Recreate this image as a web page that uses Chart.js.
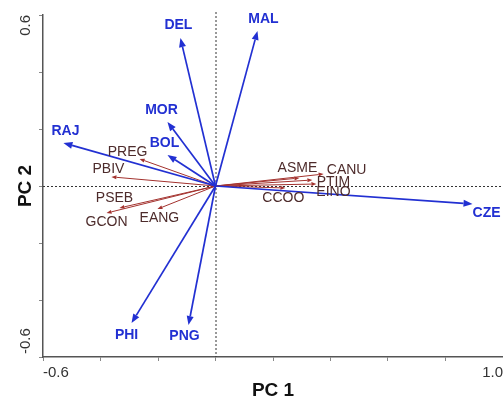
<!DOCTYPE html>
<html>
<head>
<meta charset="utf-8">
<script src="https://cdn.jsdelivr.net/npm/chart.js@4"></script>
<style>
  html, body { margin: 0; padding: 0; background: #ffffff; }
  #wrap { width: 503px; height: 404px; }
</style>
</head>
<body>
<div id="wrap"><canvas id="myChart" width="503" height="404"></canvas></div>
<script>
// Site scores (blue arrows)
var siteNames = ["DEL", "MAL", "MOR", "BOL", "RAJ", "CZE", "PHI", "PNG"];
var siteX = [-0.122, 0.146, -0.167, -0.167, -0.529, 0.894, -0.292, -0.094];
var siteY = [0.519, 0.544, 0.225, 0.109, 0.151, -0.063, -0.481, -0.488];

// Species scores (red arrows)
var speciesNames = ["PREG", "PBIV", "PSEB", "GCON", "EANG", "ASME", "CANU", "PTIM", "EINO", "CCOO"];
var speciesX = [-0.264, -0.362, -0.334, -0.379, -0.202, 0.292, 0.376, 0.337, 0.351, 0.243];
var speciesY = [0.095, 0.032, -0.077, -0.095, -0.081, 0.028, 0.042, 0.021, 0.007, -0.007];

// Axis tick labels (only the ends are labelled)
var xTickLabels = ["-0.6", "1.0"];
var yTickLabels = ["0.6", "-0.6"];

// Label nudges in pixels relative to the arrow tip
var siteLabelOffsets = [[-2, -13], [6, -12], [-6, -12], [-3, -12], [2, -12], [14, 9], [-5, 12], [-4, 11]];
var speciesLabelOffsets = [[-12, -7], [-3, -8], [-5, -10], [0, 9], [2, 9], [-2, -10], [23, -4], [21, 2], [17, 8], [-2, 10]];

var BLUE = "#2230d2";
var RED = "#a3322e";
var BROWN = "#4d2b2b";

function toPoints(xs, ys)
{
    return xs.map(function(v, i) { return { x: v, y: ys[i] }; });
}

// Draws a line from (x0,y0) to (x1,y1) with a filled head at the end
function drawArrow(ctx, x0, y0, x1, y1, color, width, headLen, headHalf)
{
    var ang = Math.atan2(y1 - y0, x1 - x0);
    var bx = x1 - Math.cos(ang) * headLen;
    var by = y1 - Math.sin(ang) * headLen;
    ctx.strokeStyle = color;
    ctx.fillStyle = color;
    ctx.lineWidth = width;
    ctx.beginPath();
    ctx.moveTo(x0, y0);
    ctx.lineTo(bx, by);
    ctx.stroke();
    ctx.beginPath();
    ctx.moveTo(x1, y1);
    ctx.lineTo(bx - Math.sin(ang) * headHalf, by + Math.cos(ang) * headHalf);
    ctx.lineTo(bx + Math.sin(ang) * headHalf, by - Math.cos(ang) * headHalf);
    ctx.closePath();
    ctx.fill();
}

var biplotPlugin = {
    id: "biplot",
    afterDatasetsDraw: function(chart) {
        var ctx = chart.ctx;
        var xs = chart.scales.x;
        var ys = chart.scales.y;
        var area = chart.chartArea;
        var ox = xs.getPixelForValue(0);
        var oy = ys.getPixelForValue(0);

        ctx.save();

        // Dotted zero lines
        ctx.strokeStyle = "#333333";
        ctx.lineWidth = 1;
        ctx.setLineDash([2, 2]);
        ctx.beginPath();
        ctx.moveTo(ox + 0.5, area.top - 3);
        ctx.lineTo(ox + 0.5, area.bottom);
        ctx.moveTo(area.left, oy + 0.5);
        ctx.lineTo(area.right, oy + 0.5);
        ctx.stroke();
        ctx.setLineDash([]);

        // Species arrows
        var i, px, py;
        for (i = 0; i < speciesNames.length; i++)
        {
            px = xs.getPixelForValue(speciesX[i]);
            py = ys.getPixelForValue(speciesY[i]);
            drawArrow(ctx, ox, oy, px, py, RED, 1, 5, 2);
        }

        // Site arrows
        for (i = 0; i < siteNames.length; i++)
        {
            px = xs.getPixelForValue(siteX[i]);
            py = ys.getPixelForValue(siteY[i]);
            drawArrow(ctx, ox, oy, px, py, BLUE, 1.7, 9, 3.5);
        }

        ctx.textAlign = "center";
        ctx.textBaseline = "middle";

        // Species labels
        ctx.font = "14px 'Liberation Sans', Arial, sans-serif";
        ctx.fillStyle = BROWN;
        for (i = 0; i < speciesNames.length; i++)
        {
            px = xs.getPixelForValue(speciesX[i]) + speciesLabelOffsets[i][0];
            py = ys.getPixelForValue(speciesY[i]) + speciesLabelOffsets[i][1];
            ctx.fillText(speciesNames[i], px, py);
        }

        // Site labels
        ctx.font = "bold 14px 'Liberation Sans', Arial, sans-serif";
        ctx.fillStyle = BLUE;
        for (i = 0; i < siteNames.length; i++)
        {
            px = xs.getPixelForValue(siteX[i]) + siteLabelOffsets[i][0];
            py = ys.getPixelForValue(siteY[i]) + siteLabelOffsets[i][1];
            ctx.fillText(siteNames[i], px, py);
        }

        // Rotated y tick labels at the ends of the axis
        ctx.font = "15px 'Liberation Sans', Arial, sans-serif";
        ctx.fillStyle = "#333333";
        ctx.save();
        ctx.translate(26, ys.getPixelForValue(0.6));
        ctx.rotate(-Math.PI / 2);
        ctx.textAlign = "right";
        ctx.fillText(yTickLabels[0], 0, 0);
        ctx.restore();
        ctx.save();
        ctx.translate(26, ys.getPixelForValue(-0.6) - 3);
        ctx.rotate(-Math.PI / 2);
        ctx.textAlign = "left";
        ctx.fillText(yTickLabels[1], 0, 0);
        ctx.restore();

        ctx.restore();
    }
};

var ctx = document.getElementById("myChart").getContext("2d");
var config = {
    type: "scatter",
    data: {
        datasets: [{
            label: "Sites",
            data: toPoints(siteX, siteY),
            pointRadius: 0,
            borderColor: BLUE
        }, {
            label: "Species",
            data: toPoints(speciesX, speciesY),
            pointRadius: 0,
            borderColor: RED
        }]
    },
    options: {
        responsive: false,
        animation: false,
        layout: { padding: { top: 15, right: 0, left: 0, bottom: 0 } },
        plugins: {
            legend: { display: false },
            tooltip: { enabled: false }
        },
        scales: {
            x: {
                type: "linear",
                min: -0.6,
                max: 1.0,
                afterFit: function(s) { s.height = 47; s.paddingLeft = 0; s.paddingRight = 0; },
                border: { display: true, color: "#555555", width: 1.5 },
                grid: { drawOnChartArea: false, drawTicks: true, tickLength: 4, color: "#888888" },
                ticks: {
                    stepSize: 0.2,
                    align: "inner",
                    padding: 3,
                    color: "#333333",
                    font: { family: "'Liberation Sans', Arial, sans-serif", size: 15 },
                    callback: function(v, idx, ticks) {
                        if (idx === 0) return xTickLabels[0];
                        if (idx === ticks.length - 1) return xTickLabels[1];
                        return "";
                    }
                },
                title: {
                    display: true,
                    text: "PC 1",
                    color: "#111111",
                    padding: { top: 0, bottom: 2 },
                    font: { family: "'Liberation Sans', Arial, sans-serif", size: 19, weight: "bold" }
                }
            },
            y: {
                type: "linear",
                min: -0.6,
                max: 0.6,
                afterFit: function(s) { s.width = 43; },
                border: { display: true, color: "#555555", width: 1.5 },
                grid: { drawOnChartArea: false, drawTicks: true, tickLength: 4, color: "#888888" },
                ticks: {
                    stepSize: 0.2,
                    display: false
                },
                title: {
                    display: true,
                    text: "PC 2",
                    color: "#111111",
                    padding: { top: 14, bottom: 0 },
                    font: { family: "'Liberation Sans', Arial, sans-serif", size: 19, weight: "bold" }
                }
            }
        }
    },
    plugins: [biplotPlugin]
};
var chart = new Chart(ctx, config);
</script>
</body>
</html>
